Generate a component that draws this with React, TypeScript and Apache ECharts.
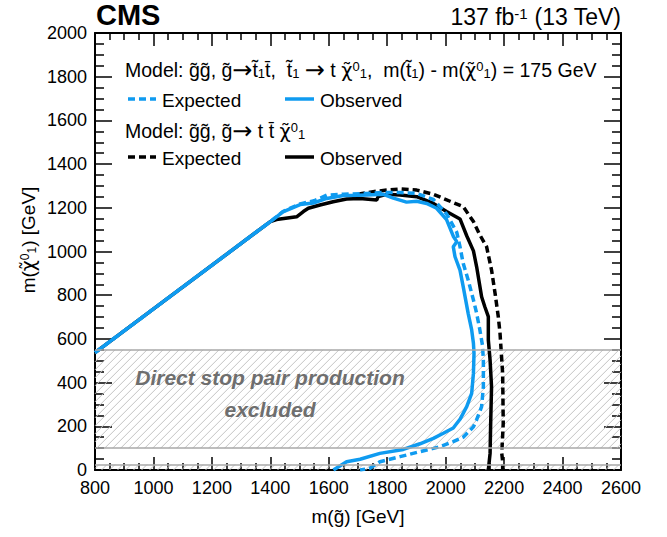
import React, { useEffect, useRef } from "react";
import * as echarts from "echarts";

// ---- axis ranges / ticks ----
const xRange = [800, 2600];
const xStep = 200;
const yRange = [0, 2000];
const yStep = 200;

// ---- excluded bands (direct stop pair production) ----
const bandMain = [100, 550];
const bandLow = [0, 25];
const bandEdges = [25, 100, 550];

// ---- stop-mediated model (dm = 175 GeV) : blue ----
const stopObserved: number[][] = [
  [800, 537], [1400, 1137], [1443, 1181], [1502, 1215], [1547, 1222], [1593, 1243],
  [1650, 1256], [1700, 1257], [1730, 1259], [1787, 1262], [1821, 1244], [1866, 1226],
  [1901, 1230], [1935, 1220], [1969, 1198], [2003, 1146], [2026, 1070], [2038, 1045],
  [2026, 1022], [2032, 976], [2049, 915], [2060, 839], [2077, 717], [2089, 641],
  [2095, 580], [2097, 534], [2095, 442], [2089, 351], [2072, 290], [2049, 232],
  [2026, 192], [1992, 168], [1958, 145], [1912, 120], [1855, 94], [1775, 76],
  [1707, 49], [1661, 38], [1616, 0],
];
const stopExpected: number[][] = [
  [800, 537], [1400, 1137], [1443, 1183], [1502, 1218], [1550, 1232], [1593, 1258],
  [1650, 1262], [1730, 1266], [1787, 1270], [1844, 1270], [1901, 1266], [1958, 1238],
  [2003, 1172], [2038, 1088], [2049, 1022], [2060, 946], [2077, 870], [2095, 778],
  [2106, 717], [2117, 641], [2126, 570], [2129, 503], [2129, 381], [2123, 290],
  [2106, 230], [2095, 198], [2060, 150], [2026, 130], [1981, 107], [1958, 99],
  [1912, 84], [1844, 61], [1775, 38], [1741, 8], [1707, 0],
];

// ---- four-top model : black ----
const ttObserved: number[][] = [
  [800, 537], [1400, 1137], [1421, 1146], [1490, 1159], [1513, 1183], [1530, 1198],
  [1570, 1213], [1615, 1228], [1661, 1240], [1707, 1243], [1764, 1236], [1769, 1251],
  [1798, 1262], [1844, 1259], [1901, 1251], [1958, 1220], [2003, 1183], [2049, 1149],
  [2072, 1072], [2095, 1003], [2106, 930], [2123, 793], [2134, 747], [2146, 702],
  [2146, 595], [2152, 503], [2157, 381], [2154, 213], [2152, 76], [2146, 0],
];
const ttExpected: number[][] = [
  [1700, 1262], [1752, 1274], [1798, 1281], [1844, 1286], [1901, 1281], [1958, 1262],
  [2015, 1230], [2060, 1205], [2095, 1137], [2117, 1076], [2140, 1022], [2157, 915],
  [2169, 809], [2180, 702], [2186, 626], [2192, 503], [2195, 442], [2197, 213],
  [2192, 76], [2195, 40], [2195, 0],
];

// ---- texts (rich-text markup) ----
const G = "g\u0303";
const ARROW = "{arr|\u2192}";
const CHI = "{chi|\u03C7\u0303}{sup|0}{sub|1}";
const ST1 = "t\u0303{sub|1}";
const TBAR = "t\u0304";
const cmsText = "CMS";
const lumiText = "137 fb{sup|-1} (13 TeV)";
const model1Text = `Model: ${G}${G}, ${G}${ARROW}${ST1}${TBAR},  ${ST1} ${ARROW} t ${CHI},  m(${ST1}) - m(${CHI}) = 175 GeV`;
const model2Text = `Model: ${G}${G}, ${G}${ARROW} t ${TBAR} ${CHI}`;
const expText = "Expected";
const obsText = "Observed";
const bandText1 = "Direct stop pair production";
const bandText2 = "excluded";
const xName = `m(${G}) [GeV]`;
const yName = `m(${CHI}) [GeV]`;

const BLUE = "#0f9bf0";
const FONT = '"Liberation Sans", Arial, Helvetica, sans-serif';

const richStyles = (size: number) => ({
  sup: { fontSize: Math.round(size * 0.65), verticalAlign: "top", fontFamily: FONT, fill: "#000", color: "#000", lineHeight: size },
  sub: { fontSize: Math.round(size * 0.65), verticalAlign: "bottom", fontFamily: FONT, fill: "#000", color: "#000", lineHeight: size },
  chi: { fontSize: size, fontFamily: '"DejaVu Sans", sans-serif', fill: "#000", color: "#000", lineHeight: size },
  arr: { fontSize: Math.round(size * 1.25), fontFamily: '"DejaVu Sans", sans-serif', fill: "#000", color: "#000", lineHeight: size },
});

export default function App() {
  const ref = useRef<HTMLDivElement>(null);
  useEffect(() => {
    if (!ref.current) return;
    const chart = echarts.init(ref.current, undefined, { renderer: "svg" });

    const fmt = (v: number) => String(v);
    const tickStyle = { color: "#000", width: 1.5 };

    const axisX = (pos: string, showLabel: boolean) => ({
      type: "value",
      position: pos,
      min: xRange[0],
      max: xRange[1],
      interval: xStep,
      axisLine: { show: true, onZero: false, lineStyle: { color: "#000", width: 2 } },
      axisTick: { show: true, inside: true, length: 13, lineStyle: tickStyle },
      minorTick: { show: true, splitNumber: 4, length: 7, lineStyle: tickStyle },
      axisLabel: { show: showLabel, color: "#000", fontSize: 18, fontFamily: FONT, margin: 9, formatter: fmt },
      splitLine: { show: false },
      minorSplitLine: { show: false },
    });
    const axisY = (pos: string, showLabel: boolean) => ({
      type: "value",
      position: pos,
      min: yRange[0],
      max: yRange[1],
      interval: yStep,
      axisLine: { show: true, onZero: false, lineStyle: { color: "#000", width: 2 } },
      axisTick: { show: true, inside: true, length: 17, lineStyle: tickStyle },
      minorTick: { show: true, splitNumber: 4, length: 9, lineStyle: tickStyle },
      axisLabel: { show: showLabel, color: "#000", fontSize: 18, fontFamily: FONT, margin: 8, formatter: fmt },
      splitLine: { show: false },
      minorSplitLine: { show: false },
    });

    const txt = (x: number, y: number, text: string, size: number, font: string, fill = "#000", align = "left", rotation = 0) => ({
      type: "text",
      x,
      y,
      rotation,
      z: 100,
      style: {
        text,
        font,
        fill,
        textAlign: align,
        textVerticalAlign: "middle",
        align,
        verticalAlign: "middle",
        rich: richStyles(size),
      },
    });
    const seg = (x1: number, x2: number, y: number, color: string, dash: number[] | null) => ({
      type: "line",
      z: 100,
      shape: { x1, y1: y, x2, y2: y },
      style: { stroke: color, lineWidth: 3.5, lineDash: dash || undefined },
    });

    // diagonal hatching of a band, computed in pixel space from the axis scales
    const renderHatch = (params: any, api: any) => {
      const tl = api.coord([api.value(0), api.value(3)]);
      const br = api.coord([api.value(2), api.value(1)]);
      const L = tl[0], T = tl[1], R = br[0], B = br[1];
      const children: any[] = [];
      const gap = 8;
      for (let c = L + T + gap / 2; c < R + B; c += gap) {
        const xa = Math.max(L, c - B);
        const xb = Math.min(R, c - T);
        if (xb <= xa) continue;
        children.push({
          type: "line",
          shape: { x1: xa, y1: c - xa, x2: xb, y2: c - xb },
          style: { stroke: "#c4c4c4", lineWidth: 1 },
        });
      }
      return { type: "group", children };
    };

    const modelSize = 19.5;

    const option: any = {
      animation: false,
      backgroundColor: "#fff",
      grid: { left: 95, right: 46, top: 33, bottom: 67, containLabel: false },
      xAxis: [
        {
          ...axisX("bottom", true),
          name: xName,
          nameLocation: "middle",
          nameGap: 37,
          nameTextStyle: { color: "#000", fontSize: 19, fontFamily: FONT, rich: richStyles(19) },
        },
        { ...axisX("top", false) },
      ],
      yAxis: [{ ...axisY("left", true) }, { ...axisY("right", false) }],
      series: [
        {
          type: "custom",
          silent: true,
          z: 1,
          clip: false,
          renderItem: renderHatch,
          data: [
            [xRange[0], bandMain[0], xRange[1], bandMain[1]],
            [xRange[0], bandLow[0], xRange[1], bandLow[1]],
          ],
        },
        {
          type: "line",
          data: [],
          silent: true,
          markLine: {
            silent: true,
            symbol: "none",
            label: { show: false },
            lineStyle: { color: "#a8a8a8", width: 1.5, type: "solid" },
            data: bandEdges.map((v) => ({ yAxis: v })),
          },
        },
        { type: "line", data: ttExpected, showSymbol: false, z: 3, lineStyle: { color: "#000", width: 3.5, type: [7, 4] } },
        { type: "line", data: ttObserved, showSymbol: false, z: 3, lineStyle: { color: "#000", width: 3.5, type: "solid" } },
        { type: "line", data: stopExpected, showSymbol: false, z: 3, lineStyle: { color: BLUE, width: 3.5, type: [7, 4] } },
        { type: "line", data: stopObserved, showSymbol: false, z: 3, lineStyle: { color: BLUE, width: 3.5, type: "solid" } },
      ],
      graphic: [
        txt(96, 15, cmsText, 29, `bold 29px ${FONT}`),
        txt(621, 17, lumiText, 23, `23px ${FONT}`, "#000", "right"),
        txt(125, 70, model1Text, modelSize, `${modelSize}px ${FONT}`),
        seg(128, 156, 99, BLUE, [7, 4]),
        txt(162, 100, expText, 19, `19px ${FONT}`),
        seg(285, 314, 99, BLUE, null),
        txt(320, 100, obsText, 19, `19px ${FONT}`),
        txt(125, 131, model2Text, modelSize, `${modelSize}px ${FONT}`),
        seg(128, 156, 157, "#000", [7, 4]),
        txt(162, 158, expText, 19, `19px ${FONT}`),
        seg(285, 314, 157, "#000", null),
        txt(320, 158, obsText, 19, `19px ${FONT}`),
        txt(270, 377, bandText1, 21, `italic bold 21px ${FONT}`, "#6e6e6e", "center"),
        txt(270, 409, bandText2, 21, `italic bold 21px ${FONT}`, "#6e6e6e", "center"),
        txt(28, 240, yName, 19, `19px ${FONT}`, "#000", "center", Math.PI / 2),
      ],
    };
    chart.setOption(option);
    return () => chart.dispose();
  }, []);
  return (
    <div
      ref={ref}
      style={{ position: "fixed", left: 0, top: 0, width: 667, height: 537, background: "#fff" }}
    />
  );
}
